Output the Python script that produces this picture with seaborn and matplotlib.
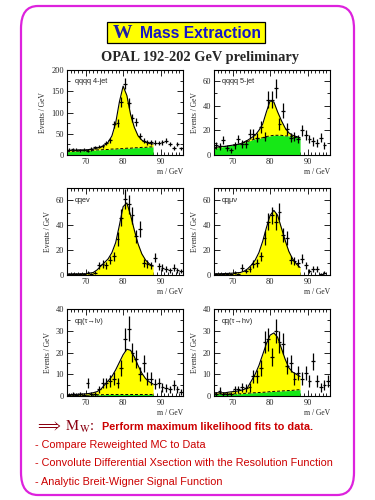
import numpy as np
import pandas as pd
import matplotlib
matplotlib.use("Agg")
import matplotlib.pyplot as plt
import seaborn as sns
from matplotlib.patches import FancyBboxPatch, Rectangle
from matplotlib.ticker import MultipleLocator

# ---------------- data ----------------
mass_centers = [65.5, 66.5, 67.5, 68.5, 69.5, 70.5, 71.5, 72.5, 73.5, 74.5,
                75.5, 76.5, 77.5, 78.5, 79.5, 80.5, 81.5, 82.5, 83.5, 84.5,
                85.5, 86.5, 87.5, 88.5, 89.5, 90.5, 91.5, 92.5, 93.5, 94.5, 95.5]
curve_mass = [65, 66, 67, 68, 69, 70, 71, 72, 73, 74, 75, 76,
              77, 78, 79, 80, 81, 82, 83, 84, 85, 86, 87, 88]

panel_labels = ["qqqq 4-jet", "qqqq 5-jet", "qqev", "qq\u03bc\u03bd",
                "qq(\u03c4\u2192l\u03bd)", "qq(\u03c4\u2192h\u03bd)"]

data_4jet = [12, 13, 12, 11, 12, 10, 14, 18, 20, 22, 28, 35, 72, 75, 125, 168,
             122, 88, 78, 45, 34, 30, 30, 29, 28, 30, 34, 26, 17, 26, 16]
total_4jet = [11, 11, 11, 12, 12, 12, 13, 14, 16, 19, 23, 30, 45, 75, 125, 162,
              140, 95, 65, 45, 35, 30, 27, 26]
bkg_4jet = [8, 8, 9, 9, 10, 10, 11, 11, 12, 12, 13, 13, 14, 14, 15, 15,
            16, 16, 17, 17, 18, 18, 19, 19]

data_5jet = [8, 7, 12, 6, 4, 8, 13, 9, 9, 17, 17, 14, 23, 15, 45, 45,
             54, 25, 36, 21, 14, 15, 13, 20, 16, 13, 11, 10, 14, 8, np.nan]
total_5jet = [6, 6.5, 7, 7, 7.5, 8, 8.5, 9, 10.5, 12, 14, 16, 20, 25, 35, 44,
              43, 35, 28, 22, 18, 16, 15, 14]
bkg_5jet = [5, 6, 6.5, 7, 7.5, 8, 8.5, 9, 10, 11, 12, 13, 13.5, 14, 15, 15.5,
            16, 16, 16, 15.5, 15.5, 15, 14.5, 14]

data_qqev = [1, 1, 1, 1, 1, 2, 1, 2, 8, 9, 8, 12, 15, 29, 46, 61,
             57, 48, 31, 37, 10, 9, 8, 14, 7, 6, 5, 4, 6, 4, 3]
total_qqev = [0.8, 0.8, 0.9, 0.9, 1, 1, 1.5, 2, 4, 7, 10, 13, 18, 26, 40, 55,
              58, 48, 36, 25, 17, 12, 9, 7]
bkg_qqev = [0.3] * 24

data_qqmv = [1, 1, 1, 1, 1, 2, 1, 6, 3, 5, 9, 10, 15, 30, 43, 48,
             43, 51, 32, 30, 12, 11, 10, 13, 8, 3, 5, 5, 1, 2, np.nan]
total_qqmv = [1, 1, 1, 1.2, 1.3, 1.5, 1.8, 2, 3, 5, 8, 12, 18, 27, 38, 48,
              52, 48, 38, 28, 19, 13, 9, 6]
bkg_qqmv = [0.3] * 24

data_tlv = [0.5, 1, 0.5, 1, 0.5, 6, 1, 1, 3, 6, 6, 7, 8, 6, 13, 26,
            31, 20, 17, 10, 15, 8, 8, 5.5, 6, 4, 3.5, 3, 5, 3, 2]
total_tlv = [0.5, 0.6, 0.7, 0.8, 0.9, 1, 1.2, 1.5, 2, 3, 5, 7, 9, 12, 15.5, 19,
             21.5, 21, 18, 14, 10.5, 8, 6.5, 5.5]
bkg_tlv = [0.3, 0.3, 0.3, 0.3, 0.3, 0.3, 0.4, 0.4, 0.5, 0.6, 0.6, 0.7, 0.7, 0.7,
           0.7, 0.7, 0.7, 0.7, 0.7, 0.7, 0.7, 0.7, 0.7, 0.7]

data_thv = [1, 2.5, 1, 1, 1, 3, 3, 4, 3.5, 4, 9, 9, 13, 25, 26, 18,
            30, 25, 24, 14, 15, 8, 10.5, 8, 10.5, 7, 16, 7, 4, 5, 7]
total_thv = [1.5, 1.5, 1.5, 1.5, 1.8, 2, 2.2, 2.5, 3, 4, 7, 10, 14, 19, 24, 28,
             29, 27, 22, 17, 13, 11, 10, 9]
bkg_thv = [1, 1, 1, 1, 1, 1, 1, 1, 1.2, 1.3, 1.4, 1.5, 1.6, 1.7, 1.8, 2,
           2.1, 2.2, 2.3, 2.4, 2.5, 2.6, 2.8, 2.9]

panels = [
    (data_4jet, total_4jet, bkg_4jet, 200, 50, 25),
    (data_5jet, total_5jet, bkg_5jet, 69, 20, 10),
    (data_qqev, total_qqev, bkg_qqev, 70, 20, 10),
    (data_qqmv, total_qqmv, bkg_qqmv, 70, 20, 10),
    (data_tlv, total_tlv, bkg_tlv, 40, 10, 5),
    (data_thv, total_thv, bkg_thv, 40, 10, 5),
]

# ---------------- style ----------------
sns.set_style("ticks")
plt.rcParams["font.family"] = ["Liberation Serif", "DejaVu Serif"]
plt.rcParams["mathtext.fontset"] = "stix"

YELLOW = "#ffff00"
GREEN = "#16e816"
MAGENTA = "#dd22dd"

fig = plt.figure(figsize=(3.75, 5.0), dpi=100)
fig.patch.set_facecolor("white")

W, H = 375.0, 500.0
def fx(px):
    return px / W
def fy(py):
    return 1 - py / H

# border
border = FancyBboxPatch((fx(21), fy(495)), fx(354) - fx(21), fy(6) - fy(495),
                        boxstyle="round,pad=0,rounding_size=0.045",
                        transform=fig.transFigure, facecolor="none",
                        edgecolor=MAGENTA, linewidth=1.6, zorder=0)
fig.patches.append(border)

# title box
tbox = Rectangle((fx(107), fy(43)), fx(265) - fx(107), fy(22) - fy(43),
                 transform=fig.transFigure, facecolor=YELLOW,
                 edgecolor="black", linewidth=0.9, zorder=1)
fig.patches.append(tbox)
fig.text(fx(113), fy(33), "W", fontsize=14, fontweight="bold",
         color="#1c1ca8", ha="left", va="center", family="Liberation Serif")
fig.text(fx(140), fy(33.5), "Mass Extraction", fontsize=11.3, fontweight="bold",
         color="#1414c8", ha="left", va="center", family="Liberation Sans")

fig.text(fx(200), fy(57), "OPAL 192-202 GeV preliminary", fontsize=10.4,
         fontweight="bold", ha="center", va="center", family="Liberation Serif")

# panels
col_left = [67, 214]
row_top = [70, 188, 309]
row_bot = [155, 275, 396]
pw = 116

for i, (dat, tot, bkg, ytop, ymaj, ymin) in enumerate(panels):
    r, c = divmod(i, 2)
    ax = fig.add_axes([fx(col_left[c]), fy(row_bot[r]), fx(pw),
                       (row_bot[r] - row_top[r]) / H])
    ax.fill_between(curve_mass, bkg, tot, color=YELLOW, lw=0, zorder=1)
    ax.fill_between(curve_mass, 0, bkg, color=GREEN, lw=0, zorder=1)
    sns.lineplot(x=curve_mass, y=tot, ax=ax, color="black", lw=0.8, zorder=2)
    sns.lineplot(x=curve_mass, y=bkg, ax=ax, color="black", lw=0.7,
                 linestyle=(0, (3, 2)), zorder=2)
    d = np.array(dat, dtype=float)
    ax.errorbar(mass_centers, d, yerr=np.sqrt(d), xerr=0.5, fmt="none",
                ecolor="black", elinewidth=0.9, capsize=0, zorder=3)
    ax.set_xlim(65, 96)
    ax.set_ylim(0, ytop)
    ax.xaxis.set_major_locator(MultipleLocator(10))
    ax.xaxis.set_minor_locator(MultipleLocator(1))
    ax.yaxis.set_major_locator(MultipleLocator(ymaj))
    ax.yaxis.set_minor_locator(MultipleLocator(ymin))
    ax.tick_params(which="both", direction="in", top=True, right=True,
                   labelsize=6, pad=2, width=0.6, color="black")
    ax.tick_params(which="major", length=4)
    ax.tick_params(which="minor", length=2)
    for s in ax.spines.values():
        s.set_linewidth(0.8)
        s.set_color("black")
    ax.set_ylabel("Events / GeV", fontsize=5.5, labelpad=3)
    ax.set_xlabel("m / GeV", fontsize=5.5, labelpad=1)
    ax.xaxis.set_label_coords(1.0, -0.15)
    ax.xaxis.label.set_ha("right")
    ax.text(0.07, 0.86, panel_labels[i], transform=ax.transAxes, fontsize=5.3,
            family="Liberation Sans", ha="left", va="center")
    ax.set_facecolor("none")

# bottom text
fig.text(fx(35), fy(427), r"$\Longrightarrow\ \mathrm{M_W}$:", fontsize=10.5,
         color="#8a0010", ha="left", va="center")
fig.text(fx(102), fy(427), "Perform maximum likelihood fits to data.",
         fontsize=7.8, fontweight="bold", color="#cc0000", ha="left",
         va="center", family="Liberation Sans")
lines = ["- Compare Reweighted MC to Data",
         "- Convolute Differential Xsection with the Resolution Function",
         "- Analytic Breit-Wigner Signal Function"]
for y, t in zip([445, 463, 482], lines):
    fig.text(fx(35), fy(y), t, fontsize=7.85, color="#cc0000", ha="left",
             va="center", family="Liberation Sans")

fig.savefig("out.png", dpi=100, facecolor="white")
